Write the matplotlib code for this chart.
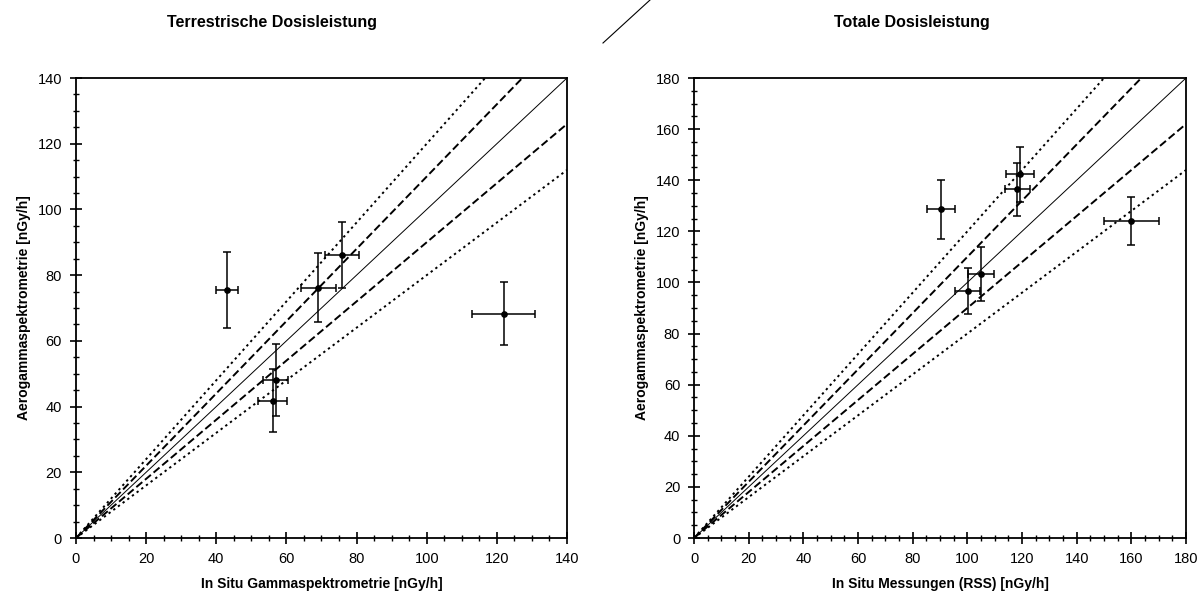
import numpy as np
import matplotlib
matplotlib.use("Agg")
import matplotlib.pyplot as plt
from matplotlib.lines import Line2D
from matplotlib.ticker import MultipleLocator

plt.rcParams['font.family'] = ['Liberation Sans', 'DejaVu Sans']

# Terrestrische Dosisleistung: in situ vs. aero
left_x = [43.1, 69.1, 75.9, 56.9, 56.1, 122.0]
left_y = [75.5, 76.2, 86.1, 48.1, 41.8, 68.2]
left_xerr = [3.1, 4.9, 4.9, 3.6, 4.1, 9.0]
left_yerr = [11.5, 10.4, 10.0, 11.0, 9.5, 9.6]

# Totale Dosisleistung: RSS vs. aero
right_x = [90.3, 119.3, 118.3, 105.0, 100.1, 160.0]
right_y = [128.7, 142.3, 136.4, 103.2, 96.6, 124.0]
right_xerr = [5.0, 5.0, 4.6, 4.9, 4.5, 10.0]
right_yerr = [11.5, 10.8, 10.5, 10.6, 9.1, 9.5]

# reference lines y = r * x
ratios = [1.2, 1.1, 1.0, 0.9, 0.8]
ratio_styles = [(0, (1.2, 1.8)), (0, (4, 1.8)), '-', (0, (4, 1.8)), (0, (1.2, 1.8))]
ratio_widths = [1.4, 1.4, 0.7, 1.4, 1.4]

fig = plt.figure(figsize=(12.02, 6.01), dpi=100)
ax1 = fig.add_axes([0.0632, 0.1048, 0.4085, 0.7654])
ax2 = fig.add_axes([0.5774, 0.1048, 0.4093, 0.7654])


def setup(ax, xs, ys, xerr, yerr, vmax, xlabel, ylabel):
    grid = np.array([0, vmax])
    for r, ls, lw in zip(ratios, ratio_styles, ratio_widths):
        ax.plot(grid, r * grid, color='black', linestyle=ls, linewidth=lw)
    ax.errorbar(xs, ys, xerr=xerr, yerr=yerr, fmt='o', color='black',
                markersize=3.8, elinewidth=1.1, capsize=3, capthick=1.1)
    ax.set_xlim(0, vmax)
    ax.set_ylim(0, vmax)
    ax.xaxis.set_major_locator(MultipleLocator(20))
    ax.yaxis.set_major_locator(MultipleLocator(20))
    ax.xaxis.set_minor_locator(MultipleLocator(5))
    ax.yaxis.set_minor_locator(MultipleLocator(5))
    ax.tick_params(which='major', direction='inout', length=8, width=1.2,
                   labelsize=10.5, pad=6)
    ax.tick_params(which='minor', direction='inout', length=4, width=1.0)
    for s in ax.spines.values():
        s.set_linewidth(1.3)
    ax.set_xlabel(xlabel, fontsize=10, fontweight='bold', labelpad=8)
    ax.set_ylabel(ylabel, fontsize=10, fontweight='bold', labelpad=5)


setup(ax1, left_x, left_y, left_xerr, left_yerr, 140,
      'In Situ Gammaspektrometrie [nGy/h]', 'Aerogammaspektrometrie [nGy/h]')
setup(ax2, right_x, right_y, right_xerr, right_yerr, 180,
      'In Situ Messungen (RSS) [nGy/h]', 'Aerogammaspektrometrie [nGy/h]')

fig.text(272 / 1202, 1 - 22 / 601, 'Terrestrische Dosisleistung', ha='center',
         va='center', fontsize=11.5, fontweight='bold')
fig.text(912 / 1202, 1 - 22 / 601, 'Totale Dosisleistung', ha='center',
         va='center', fontsize=11.5, fontweight='bold')

# stray stroke at the top centre
fig.add_artist(Line2D([603 / 1202, 650 / 1202], [1 - 43 / 601, 1.0],
                      color='black', linewidth=0.8))

fig.savefig('out.png', dpi=100)
